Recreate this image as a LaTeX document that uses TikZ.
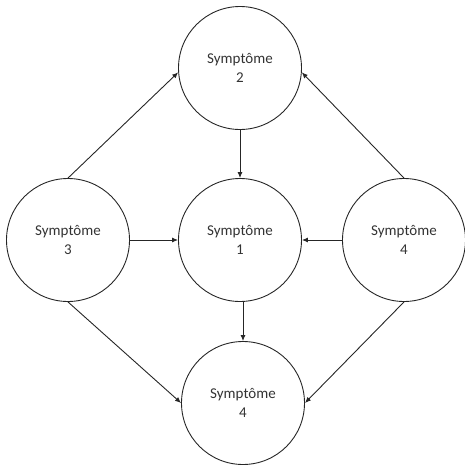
\documentclass[tikz,border=0pt]{standalone}
\usepackage{fontspec}
\setmainfont{Carlito}
\usepackage{tikz}
\usetikzlibrary{arrows.meta, calc}
\tikzset{
  symptom/.style={
    circle, draw=black!85, line width=0.9pt, minimum size=123pt, inner sep=0pt,
    align=center, font=\fontsize{15}{19}\selectfont, text=black!80
  },
  symarrow/.style={
    line width=0.9pt, draw=black!85, -{Latex[length=6pt, width=5pt]}
  }
}

\begin{document}
\begin{tikzpicture}[x=1pt, y=-1pt]
  \useasboundingbox (0,0) rectangle (465,466);
  \node[symptom] (sympTwo) at (240,68) {Symptôme\\2};
  \node[symptom] (sympOne) at (240,240) {Symptôme\\1};
  \node[symptom] (sympThree) at (68,240) {Symptôme\\3};
  \node[symptom] (sympFourR) at (404,240) {Symptôme\\4};
  \node[symptom] (sympFourB) at (243,403) {Symptôme\\4};

  \draw[symarrow] (sympThree.north) -- (sympTwo.184);
  \draw[symarrow] (sympFourR.north) -- (sympTwo.-4);
  \draw[symarrow] (sympTwo.south) -- (sympOne.north);
  \draw[symarrow] (sympThree.east) -- (sympOne.west);
  \draw[symarrow] (sympFourR.west) -- (sympOne.east);
  \draw[symarrow] (sympOne.south -| sympFourB) -- (sympFourB.north);
  \draw[symarrow] (sympThree.south) -- (sympFourB.west);
  \draw[symarrow] (sympFourR.south) -- (sympFourB.east);
\end{tikzpicture}
\end{document}
